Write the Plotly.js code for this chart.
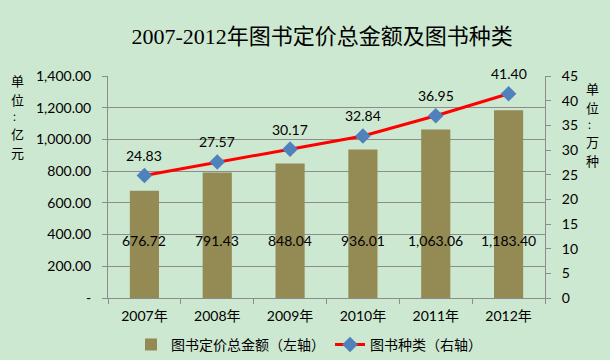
<!DOCTYPE html>
<html><head><meta charset="utf-8">
<script src="https://cdn.plot.ly/plotly-3.0.1.min.js"></script>
<style>html,body{margin:0;padding:0;background:#cde8d0;}#c{width:610px;height:360px;}</style>
</head><body><div id="c"></div>
<script>
const years = ['2007年','2008年','2009年','2010年','2011年','2012年'];
const amount = [676.72, 791.43, 848.04, 936.01, 1063.06, 1183.40];
const kinds = [24.83, 27.57, 30.17, 32.84, 36.95, 41.40];
const leftTicks = [0,200,400,600,800,1000,1200,1400];
const leftTickText = ['-','200.00','400.00','600.00','800.00','1,000.00','1,200.00','1,400.00'];
const rightTicks = [0,5,10,15,20,25,30,35,40,45];
const leftUnit = ['单','位','：','亿','元'];
const rightUnit = ['单','位','：','万','种'];
const barLabelY = 360;

const fmt = v => v.toLocaleString('en-US',{minimumFractionDigits:2,maximumFractionDigits:2});
const cjk = '"Noto Sans CJK SC", sans-serif';
const num = 'Lato, "Noto Sans CJK SC", sans-serif';
const bg = '#cde8d0';
const grid = '#8c8c8c';

const traces = [
  {type:'bar', x:years, y:amount, name:'图书定价总金额（左轴）', marker:{color:'#948a54'}, yaxis:'y', hoverinfo:'none'},
  {type:'scatter', mode:'lines+markers', x:years, y:kinds, name:'图书种类（右轴）', yaxis:'y2',
   line:{color:'#ff0000', width:3}, marker:{symbol:'diamond', size:12, color:'#4f81bd'}, hoverinfo:'none'}
];

const annotations = [];
years.forEach((c,i)=>{
  annotations.push({x:c, y:barLabelY, xref:'x', yref:'y', text:fmt(amount[i]), showarrow:false, font:{family:num,size:14,color:'#000'}});
  annotations.push({x:c, y:kinds[i], xref:'x', yref:'y2', text:kinds[i].toFixed(2), showarrow:false, yshift:20, font:{family:num,size:14,color:'#000'}});
});
// vertical unit labels: one annotation per character (pixel offsets inside the plot frame)
const plotTop = 76, plotH = 222;
const toPaper = px => (plotTop + plotH - px) / plotH;
const leftPx = [80, 99, 116, 133, 152];
const rightPx = [88, 107, 124, 141, 160];
leftUnit.forEach((ch,i)=>annotations.push({xref:'paper', yref:'paper', x:-0.208, y:toPaper(leftPx[i]), xanchor:'center', yanchor:'middle',
  showarrow:false, text:ch, font:{family:cjk, size: ch==='：'?10:13, color:'#000'}}));
rightUnit.forEach((ch,i)=>annotations.push({xref:'paper', yref:'paper', x:1.108, y:toPaper(rightPx[i]), xanchor:'center', yanchor:'middle',
  showarrow:false, text:ch, font:{family:cjk, size: ch==='：'?10:13, color:'#000'}}));

const layout = {
  width:610, height:360,
  paper_bgcolor:bg, plot_bgcolor:bg,
  margin:{l:108, r:65, t:76, b:62, autoexpand:false},
  title:{text:'2007-2012年图书定价总金额及图书种类', font:{family:'"Liberation Serif", "Noto Sans CJK SC", serif', size:22, color:'#000'}, x:0.528, xanchor:'center', y:0.9, yanchor:'middle'},
  bargap:0.6,
  showlegend:true,
  legend:{orientation:'h', x:0.46, xanchor:'center', yref:'container', y:0.042, yanchor:'middle', font:{family:cjk,size:14,color:'#000'}, bgcolor:'rgba(0,0,0,0)', itemwidth:30, traceorder:'normal'},
  xaxis:{type:'category', showline:true, linecolor:grid, linewidth:1, ticks:'outside', tickson:'boundaries', ticklen:5, tickcolor:grid,
    tickfont:{family:num,size:14,color:'#000'}, showgrid:false, fixedrange:true, ticklabelstandoff:5},
  yaxis:{range:[0,1400], tickvals:leftTicks, ticktext:leftTickText, showgrid:true, gridcolor:grid, gridwidth:1,
    showline:true, linecolor:grid, ticks:'outside', ticklen:5, tickcolor:grid, zeroline:false,
    tickfont:{family:num,size:14,color:'#000'}, ticklabelstandoff:8},
  yaxis2:{range:[0,45], tickvals:rightTicks, overlaying:'y', side:'right', showgrid:false, showline:true, linecolor:grid,
    ticks:'outside', ticklen:5, tickcolor:grid, zeroline:false, tickfont:{family:num,size:14,color:'#000'}, ticklabelstandoff:8},
  annotations:annotations
};
Plotly.newPlot('c', traces, layout, {staticPlot:true, displayModeBar:false});
</script></body></html>
